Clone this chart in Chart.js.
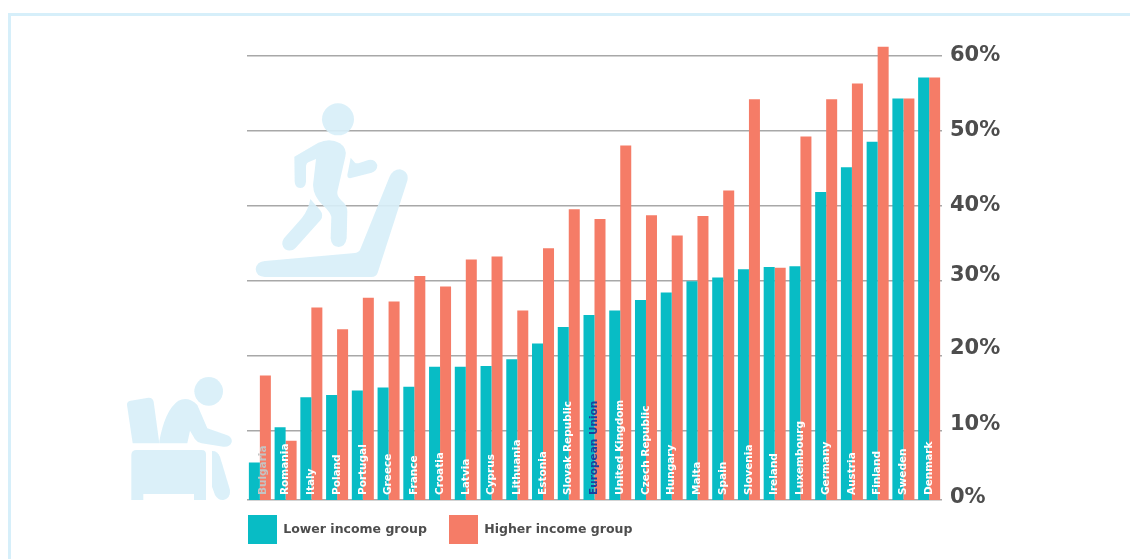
<!DOCTYPE html>
<html>
<head>
<meta charset="utf-8">
<title>Income groups</title>
<script src="https://cdn.jsdelivr.net/npm/chart.js@4"></script>
<style>
    html, body { margin: 0; padding: 0; background: #fff; }
    #wrap { position: relative; width: 1130px; height: 559px; overflow: hidden; }
    #frame { position: absolute; left: 8px; top: 13px; right: 0; bottom: 0; border-top: 3px solid #d6effa; border-left: 3px solid #d6effa; }
    canvas { position: absolute; left: 0; top: 0; }
    .icon { position: absolute; pointer-events: none; opacity: .9; }
    .icon * { fill: #d7eff9; }
</style>
</head>
<body>
<div id="wrap">
    <div id="frame"></div>
    <canvas id="incomeChart" width="1130" height="559"></canvas>

    <!-- treadmill -->
    <svg class="icon" style="left:110px;top:90px" width="310" height="200" viewBox="0 0 930 600">
        <circle cx="684" cy="88" r="48"/>
        <path d="M553 200 L625 158 Q660 142 690 160 Q712 175 706 200 L682 305 Q680 318 695 332 Q712 345 712 365 L710 445 Q706 470 686 471 Q664 470 662 445 L664 380 Q660 365 640 347 Q610 320 609 285 L618 207 L595 217 Q588 220 588 232 L588 275 Q586 294 570 294 Q555 293 554 275 Z"/>
        <path d="M722 203 L735 218 Q740 222 750 218 L775 210 Q795 207 802 225 Q802 243 785 248 L720 265 Q712 265 712 255 Z"/>
        <path d="M601 327 L630 360 Q642 375 632 390 L560 470 Q545 488 525 478 Q510 462 522 445 L575 385 Q595 360 601 327 Z"/>
        <path d="M465 513 L735 489 Q748 488 752 475 L838 262 Q848 238 870 238 Q898 245 892 272 L803 548 Q798 561 785 561 L465 561 Q438 560 437 537 Q440 515 465 513 Z"/>
    </svg>

    <!-- armchair -->
    <svg class="icon" style="left:110px;top:360px" width="140" height="150" viewBox="0 0 420 450">
        <circle cx="296" cy="94" r="43"/>
        <path d="M62 122 L115 113 Q128 112 131 125 L148 250 L68 250 L51 135 Q50 124 62 122 Z"/>
        <path d="M148 243 Q165 150 205 122 Q235 108 262 135 L292 205 L350 225 Q368 232 365 247 Q360 262 340 260 L275 250 Q262 248 255 238 L240 212 L232 250 L148 250 Z"/>
        <path d="M80 270 L275 270 Q288 270 288 283 L288 420 L252 420 L252 402 L100 402 L100 420 L64 420 L64 285 Q64 270 80 270 Z"/>
        <path d="M306 273 Q322 272 330 290 L360 390 Q362 415 340 420 Q325 422 315 405 L306 380 Z"/>
    </svg>
</div>

<script>
const countries = [
    "Bulgaria", "Romania", "Italy", "Poland", "Portugal", "Greece", "France", "Croatia", "Latvia",
    "Cyprus", "Lithuania", "Estonia", "Slovak Republic", "European Union", "United Kingdom",
    "Czech Republic", "Hungary", "Malta", "Spain", "Slovenia", "Ireland", "Luxembourg", "Germany",
    "Austria", "Finland", "Sweden", "Denmark"
];
const lowerIncome = [
    5.7, 10.4, 14.4, 14.7, 15.3, 15.7, 15.8, 18.5, 18.5,
    18.6, 19.5, 21.6, 23.8, 25.4, 26.0,
    27.4, 28.4, 29.9, 30.4, 31.5, 31.8, 31.9, 41.8,
    45.1, 48.5, 54.3, 57.1
];
const higherIncome = [
    17.3, 8.6, 26.4, 23.5, 27.7, 27.2, 30.6, 29.2, 32.8,
    33.2, 26.0, 34.3, 39.5, 38.2, 48.0,
    38.7, 36.0, 38.6, 42.0, 54.2, 31.7, 49.2, 54.2,
    56.3, 61.2, 54.3, 57.1
];
const tickLabels = ["0%", "10%", "20%", "30%", "40%", "50%", "60%"];

// the picture's axis is squeezed at the bottom, the baseline sits a bit above a true 0
const axisBase = 0.7;
const axisTop = 62;
const gridValues = [axisBase, 10, 20, 30, 40, 50, 60];
// the lower labels sit above their lines in the picture
const labelValues = [1.0, 10.8, 20.9, 30.6, 40, 50, 60];

const labelColor = name => {
    if (name === "Bulgaria") return "#c4c4c4";
    if (name === "European Union") return "#1d3f9e";
    return "#ffffff";
};

// country names run up inside the bars
const barNames = {
    id: "barNames",
    afterDatasetsDraw(chart) {
        const { ctx, scales: { x } } = chart;
        ctx.save();
        ctx.font = "bold 10.5px 'DejaVu Sans'";
        ctx.textAlign = "left";
        ctx.textBaseline = "middle";
        countries.forEach((name, i) => {
            ctx.save();
            ctx.translate(x.getPixelForTick(i) + (i === 0 ? 3 : 0), chart.chartArea.bottom - 5);
            ctx.rotate(-Math.PI / 2);
            ctx.fillStyle = labelColor(name);
            ctx.fillText(name, 0, 0);
            ctx.restore();
        });
        ctx.restore();
    }
};

new Chart(document.getElementById("incomeChart"), {
    type: "bar",
    plugins: [barNames],
    data: {
        labels: countries,
        datasets: [
            { label: "Lower income group", data: lowerIncome, backgroundColor: "#08bcc5", yAxisID: "y" },
            { label: "Higher income group", data: higherIncome, backgroundColor: "#f57c67", yAxisID: "y" }
        ]
    },
    options: {
        responsive: false,
        animation: false,
        layout: { padding: { left: 239, top: 40.7, bottom: 5, right: 0 } },
        datasets: { bar: { categoryPercentage: 0.855, barPercentage: 1 } },
        scales: {
            x: {
                grid: { display: false },
                border: { display: false },
                ticks: { display: false },
                afterFit: s => { s.height = 6; }
            },
            y: {
                position: "left",
                min: axisBase,
                max: axisTop,
                afterBuildTicks: s => { s.ticks = gridValues.map(value => ({ value })); },
                afterFit: s => { s.width = 8; },
                ticks: { display: false },
                border: { display: false },
                grid: { color: "#a8a8a8", lineWidth: 1.5, drawTicks: false }
            },
            y2: {
                position: "right",
                min: axisBase,
                max: axisTop,
                afterBuildTicks: s => { s.ticks = labelValues.map(value => ({ value })); },
                afterFit: s => { s.width = 188; },
                grid: { display: false, drawTicks: false },
                border: { display: false },
                ticks: {
                    padding: 8,
                    color: "#4d4d4d",
                    font: { family: "'DejaVu Sans'", size: 21, weight: "bold" },
                    callback: (v, i) => tickLabels[i]
                }
            }
        },
        plugins: {
            tooltip: { enabled: false },
            legend: {
                position: "bottom",
                align: "start",
                labels: {
                    boxWidth: 29,
                    boxHeight: 29,
                    padding: 9,
                    color: "#4d4d4d",
                    font: { family: "'DejaVu Sans'", size: 12.5, weight: "bold" },
                    // padding also sets the top offset, so the gap between items comes from spaces
                    generateLabels: chart => Chart.defaults.plugins.legend.labels.generateLabels(chart)
                        .map((it, i) => ({ ...it, text: i === 0 ? it.text + "   " : it.text }))
                }
            }
        }
    }
});
</script>
</body>
</html>
